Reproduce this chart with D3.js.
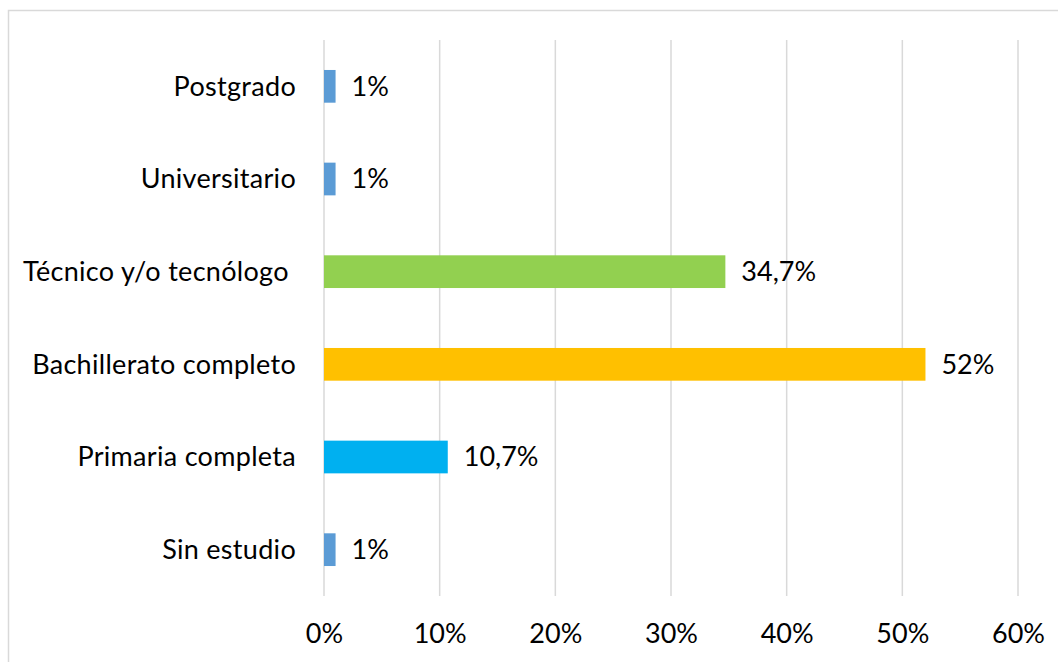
<!DOCTYPE html>
<html>
<head>
<meta charset="utf-8">
<script src="https://cdn.jsdelivr.net/npm/d3@7"></script>
<style>
  body { margin: 0; background: #fff; }
  text { font-family: Lato, "Open Sans", sans-serif; fill: #000; }
</style>
</head>
<body>
<div id="chart"></div>
<script>
const categories = ['Postgrado', 'Universitario', 'Técnico y/o tecnólogo ', 'Bachillerato completo', 'Primaria completa', 'Sin estudio'];
const values = [1, 1, 34.7, 52, 10.7, 1];
const valueLabels = ['1%', '1%', '34,7%', '52%', '10,7%', '1%'];
const barColors = ['#5B9BD5', '#5B9BD5', '#92D050', '#FFC000', '#00B0F0', '#5B9BD5'];
const ticks = [0, 10, 20, 30, 40, 50, 60];

const width = 1058, height = 662;
const margin = { top: 40, left: 324, right: 40, bottom: 66 };
const fontSize = 27;

const svg = d3.select('#chart').append('svg')
  .attr('width', width)
  .attr('height', height);

// chart border (runs off the right and bottom like the original)
svg.append('rect')
  .attr('x', 8.5).attr('y', 10.5)
  .attr('width', width + 20).attr('height', height + 20)
  .attr('fill', 'none')
  .attr('stroke', '#D9D9D9')
  .attr('stroke-width', 1.5);

const x = d3.scaleLinear().domain([0, 60]).range([margin.left, width - margin.right]);
const y = d3.scaleBand()
  .domain(categories)
  .range([margin.top, height - margin.bottom])
  .paddingInner(0.647)
  .paddingOuter(0.3235);

// gridlines
svg.append('g')
  .selectAll('line')
  .data(ticks)
  .join('line')
  .attr('x1', d => x(d)).attr('x2', d => x(d))
  .attr('y1', margin.top).attr('y2', height - margin.bottom)
  .attr('stroke', '#D9D9D9')
  .attr('stroke-width', 1.5);

// x tick labels
const xAxis = d3.axisBottom(x).tickValues(ticks).tickFormat(d => d + '%').tickSize(0).tickPadding(0);
const gx = svg.append('g')
  .attr('transform', `translate(0,${height - margin.bottom})`)
  .call(xAxis);
gx.select('.domain').remove();
gx.selectAll('text')
  .attr('dy', null)
  .attr('y', 47)
  .style('font-size', fontSize + 'px')
  .style('font-family', 'Lato, "Open Sans", sans-serif')
  .attr('fill', '#000');

// bars
svg.append('g')
  .selectAll('rect')
  .data(categories)
  .join('rect')
  .attr('x', x(0))
  .attr('y', d => y(d))
  .attr('width', (d, i) => x(values[i]) - x(0))
  .attr('height', y.bandwidth())
  .attr('fill', (d, i) => barColors[i]);

// category labels
svg.append('g')
  .selectAll('text')
  .data(categories)
  .join('text')
  .attr('x', 296)
  .attr('y', d => y(d) + y.bandwidth() / 2)
  .attr('dy', '0.35em')
  .attr('text-anchor', 'end')
  .style('white-space', 'pre')
  .style('font-size', fontSize + 'px')
  .style('letter-spacing', '0.3px')
  .text(d => d);

// value labels
svg.append('g')
  .selectAll('text')
  .data(categories)
  .join('text')
  .attr('x', (d, i) => x(values[i]) + 16)
  .attr('y', d => y(d) + y.bandwidth() / 2)
  .attr('dy', '0.35em')
  .style('font-size', fontSize + 'px')
  .text((d, i) => valueLabels[i]);
</script>
</body>
</html>
